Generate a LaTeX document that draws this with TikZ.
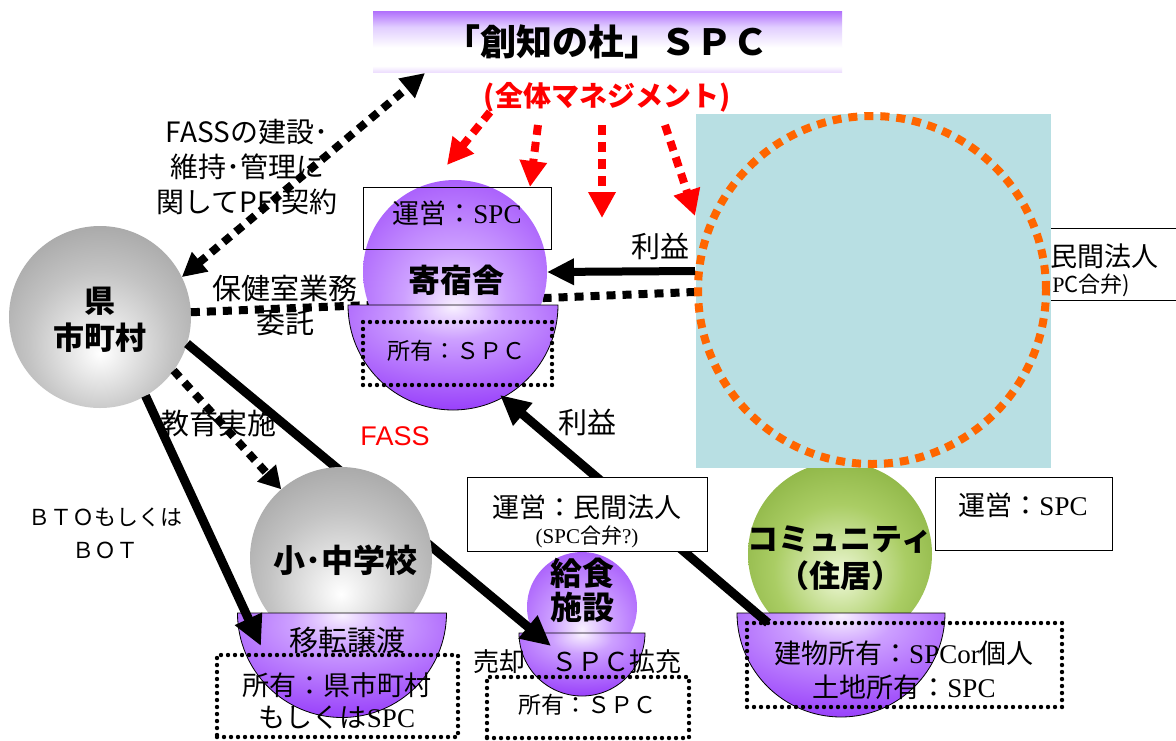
\documentclass[tikz,border=0pt]{standalone}
\usepackage{fontspec}
\setmainfont{Noto Sans CJK JP}
\newfontfamily\tms{Liberation Serif}
\newfontfamily\ars{Liberation Sans}
\usetikzlibrary{arrows.meta}
\newcommand\fsz[2]{\fontsize{#1pt}{#2pt}\selectfont}
\definecolor{purp}{RGB}{150,60,250}
\definecolor{purpmid}{RGB}{205,160,255}
\definecolor{lav}{RGB}{248,240,255}
\definecolor{lavlight}{RGB}{225,205,255}
\definecolor{grayout}{RGB}{125,125,125}
\definecolor{graymid}{RGB}{195,195,195}
\definecolor{grnout}{RGB}{105,150,30}
\definecolor{grnmid}{RGB}{170,205,100}
\definecolor{grnin}{RGB}{238,248,215}
\definecolor{skyb}{RGB}{184,223,227}
\definecolor{orng}{RGB}{255,102,0}
\definecolor{redm}{RGB}{255,0,0}
\pgfdeclareradialshading{purpball}{\pgfpoint{0bp}{-10bp}}{color(0bp)=(lav); color(14bp)=(purpmid); color(40bp)=(purp); color(70bp)=(purp)}
\pgfdeclareradialshading{purpbowl}{\pgfpoint{0bp}{24bp}}{color(0bp)=(lav); color(12bp)=(purpmid); color(40bp)=(purp); color(90bp)=(purp)}
\pgfdeclareradialshading{grayball}{\pgfpoint{0bp}{-10bp}}{color(0bp)=(white); color(20bp)=(graymid); color(50bp)=(grayout); color(70bp)=(grayout)}
\pgfdeclareradialshading{grnball}{\pgfpoint{0bp}{-6bp}}{color(0bp)=(grnin); color(18bp)=(grnmid); color(46bp)=(grnout); color(70bp)=(grnout)}
\pgfdeclareverticalshading{titlebar}{100bp}{color(0bp)=(purp); color(30bp)=(white); color(45bp)=(white); color(62bp)=(lavlight); color(82bp)=(purp); color(100bp)=(purp)}
\begin{document}
\begin{tikzpicture}[x=1pt,y=-1pt,
  ball/.style={circle,inner sep=0pt,outer sep=0pt,draw=none},
  lbl/.style={inner sep=0pt,outer sep=0pt,align=center},
  opbox/.style={draw=black,line width=0.9pt,inner sep=0pt,outer sep=0pt},
  dotbox/.style={draw=black,line width=4.4pt,dash pattern=on 0pt off 7pt,line cap=round,inner sep=0pt,outer sep=0pt},
  blkdot/.style={line width=8pt,dash pattern=on 9pt off 7pt},
  reddot/.style={draw=redm,line width=8pt,dash pattern=on 10pt off 7pt,-{Triangle[width=26pt,length=26pt]}},
  heavy/.style={line width=9pt,-{Triangle[width=28pt,length=30pt]}},
  bowl/.style={draw=black,line width=0.8pt,shading=purpbowl}]
\useasboundingbox (0,0) rectangle (1176,740);
\fill[white] (0,0) rectangle (1176,740);

% partly hidden box on the right
\begin{scope}
\clip (0,0) rectangle (1176,740);
\node[opbox,minimum width=260pt,minimum height=72pt] (minbox) at (1060,264) {};
\end{scope}
\node[lbl,font=\fsz{27}{30},anchor=west] (minT1) at (1050,256) {民間法人};
\node[lbl,font=\fsz{22}{26},anchor=east] (minT2) at (1130,286) {{\tms(SP}C合弁)};

% community sphere (top hidden)
\node[ball,minimum size=184pt,shading=grnball] (com) at (840,554) {};

% blue square and orange circle
\node[fill=skyb,minimum width=355pt,minimum height=354pt,inner sep=0pt,outer sep=0pt] (bg) at (873.5,290.5) {};
\node[circle,draw=orng,line width=8pt,dash pattern=on 9pt off 7pt,minimum size=348pt,inner sep=0pt,outer sep=0pt] (biz) at (872,290) {};

% prefecture sphere
\node[ball,minimum size=182pt,shading=grayball] (ken) at (100,317) {};
\node[lbl,font=\bfseries\fsz{31}{37}] (kenT) at (100,320) {県\\市町村};

% health room dotted line
\coordinate (hokenEnd) at (694,292);
\draw[blkdot] (ken.3) -- (hokenEnd);
\node[lbl,font=\fsz{29}{32}] (hokenT1) at (285,288) {保健室業務};
\node[lbl,font=\fsz{29}{32}] (hokenT2) at (285,323) {委託};

% school lunch facility
\node[ball,minimum size=110pt,shading=purpball] (kyuS) at (582,607) {};
\draw[bowl] (645,633) arc[start angle=0,end angle=180,radius=63] -- cycle;
\coordinate (kyuTip) at (551,646);
\draw[heavy] (ken.-17) -- (kyuTip);

% school
\node[ball,minimum size=182pt,shading=grayball] (sho) at (341,558) {};
\draw[bowl] (446.5,613) arc[start angle=0,end angle=180,radius=104.5] -- cycle;
\node[lbl,font=\bfseries\fsz{32}{36}] (shoT) at (345,560) {小･中学校};
\node[lbl,font=\fsz{29}{32}] (iten) at (347,640) {移転譲渡};
\node[dotbox,minimum width=241pt,minimum height=82pt] (shoOwn) at (337.5,696) {};
\node[lbl,font=\fsz{27}{32}] (shoOwnT) at (337,701) {所有：県市町村\\もしくは{\tms SPC}};
\coordinate (shoTip) at (261,646);
\draw[heavy] (ken.-60) -- (shoTip);
\node[lbl,font=\fsz{29}{32}] (kyoikuT) at (218,423) {教育実施};
\draw[blkdot,-{Triangle[width=24pt,length=22pt]}] (ken.-36) -- (sho.131);
\node[lbl,font=\fsz{22}{33}] (btoT) at (105,533) {ＢＴＯもしくは\\ＢＯＴ};
\node[lbl,font=\ars\fsz{27}{30},text=redm] (fassT) at (395,436) {FASS};

% dormitory
\node[ball,minimum size=184pt,shading=purpball] (kyo) at (455,272) {};
\draw[bowl] (558,305) arc[start angle=0,end angle=180,radius=105] -- cycle;
\node[opbox,minimum width=188pt,minimum height=62pt] (kyoOp) at (457,218) {};
\node[lbl,font=\fsz{27}{30}] (kyoOpT) at (457,213) {運営：{\tms SPC}};
\node[lbl,font=\bfseries\fsz{32}{36}] (kyoT) at (456,280) {寄宿舎};
\node[dotbox,minimum width=189pt,minimum height=63pt] (kyoOwn) at (457.5,353.5) {};
\node[lbl,font=\fsz{23}{26}] (kyoOwnT) at (456,351) {所有：ＳＰＣ};

% community
\draw[bowl] (945,613) arc[start angle=0,end angle=180,radius=104] -- cycle;
\node[lbl,font=\bfseries\fsz{31}{37}] (comT) at (840,558) {コミュニティ\\（住居）};
\node[opbox,fill=white,minimum width=177pt,minimum height=73pt] (comOp) at (1023.5,513.5) {};
\node[lbl,font=\fsz{27}{30}] (comOpT) at (1023,505) {運営：{\tms SPC}};
\node[dotbox,minimum width=315pt,minimum height=84pt] (comOwn) at (904.5,665) {};
\node[lbl,font=\fsz{27}{34}] (comOwnT) at (904,670) {建物所有：{\tms SPCor}個人\\土地所有：{\tms SPC}};

% profit arrow from community to dormitory
\coordinate (comStart) at (768,623);
\coordinate (kyoTip) at (500,395);
\draw[heavy] (comStart) -- (kyoTip);
\node[lbl,font=\fsz{29}{32}] (riekiT2) at (587,422) {利益};

% lunch facility texts
\node[opbox,fill=white,minimum width=240pt,minimum height=74pt] (kyuOp) at (587,514) {};
\node[lbl,font=\fsz{27}{30}] (kyuOpT1) at (587,507) {運営：民間法人};
\node[lbl,font=\fsz{21}{24}] (kyuOpT2) at (587,537) {{\tms(SPC}合弁{\tms?)}};
\node[lbl,font=\bfseries\fsz{32}{34}] (kyuT) at (582,590) {給食\\施設};
\node[lbl,font=\fsz{26}{30}] (baikyakuT) at (577,662) {売却　ＳＰＣ拡充};
\node[dotbox,minimum width=202pt,minimum height=61pt] (kyuOwn) at (588,707.5) {};
\node[lbl,font=\fsz{23}{26}] (kyuOwnT) at (587,705) {所有：ＳＰＣ};

% profit arrow to dormitory
\coordinate (riekiS) at (695,271);
\draw[line width=8pt,-{Triangle[width=25pt,length=27pt]}] (riekiS) -- (kyo.east);
\node[lbl,font=\fsz{29}{32}] (riekiT1) at (660,246) {利益};

% title
\node[shading=titlebar,minimum width=469pt,minimum height=61pt,inner sep=0pt,outer sep=0pt] (title) at (607.5,41.5) {};
\node[lbl,font=\bfseries\fsz{36}{38}] (titleT) at (606,42) {「創知の杜」ＳＰＣ};
\node[lbl,font=\bfseries\fsz{28}{32},text=redm] (mgmt) at (607,97) {(全体マネジメント)};
\coordinate (r1s) at (490,112); \coordinate (r1e) at (447,165);
\coordinate (r2s) at (538,125); \coordinate (r2e) at (530,187);
\coordinate (r3s) at (602,125); \coordinate (r3e) at (602,218);
\coordinate (r4s) at (665,125); \coordinate (r4e) at (695,216);
\draw[reddot] (r1s) -- (r1e);
\draw[reddot] (r2s) -- (r2e);
\draw[reddot] (r3s) -- (r3e);
\draw[reddot] (r4s) -- (r4e);

% PFI contract
\node[lbl,font=\fsz{28}{35}] (pfiT) at (247,167) {FASSの建設･\\維持･管理に\\関してPFI契約};
\coordinate (titleTip) at (425,73);
\draw[blkdot,{Triangle[width=24pt,length=24pt]}-{Triangle[width=24pt,length=24pt]}] (ken.26) -- (titleTip);
\end{tikzpicture}
\end{document}
